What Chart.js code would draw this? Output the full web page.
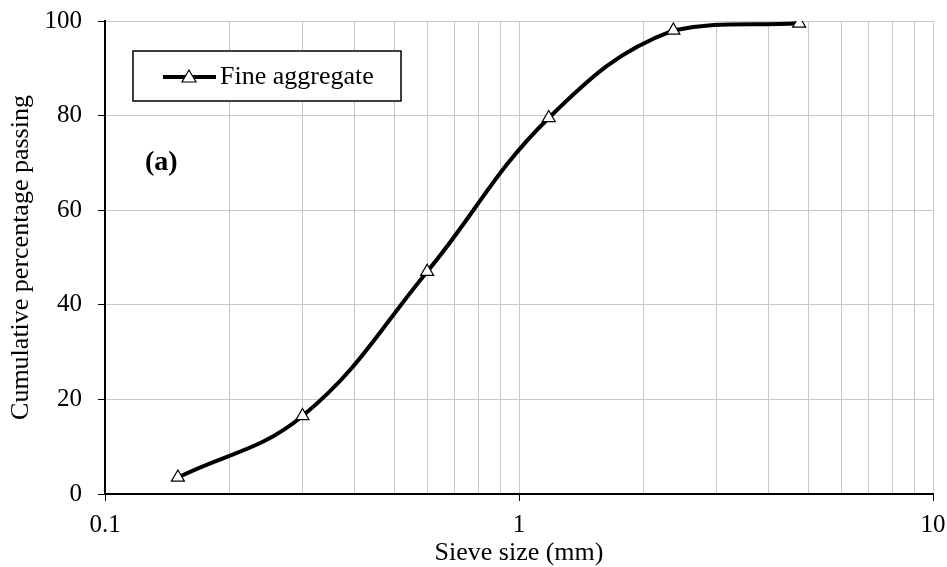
<!DOCTYPE html>
<html>
<head>
<meta charset="utf-8">
<script src="https://cdn.jsdelivr.net/npm/chart.js@4"></script>
<style>
  html, body { margin: 0; padding: 0; background: #fff; }
  #wrap { width: 947px; height: 567px; }
</style>
</head>
<body>
<div id="wrap"><canvas id="sieveChart" width="947" height="567"></canvas></div>
<script>
// sieve sizes (mm) and cumulative % passing
const sieveSizes = [0.15, 0.3, 0.6, 1.18, 2.36, 4.75];
const passing = [3.5, 16.5, 47, 79.5, 98, 99.5];
const xTickLabels = [0.1, 1, 10];
const yTicks = [0, 20, 40, 60, 80, 100];
const seriesName = 'Fine aggregate';
const panelLabel = '(a)';

const serif = "'Liberation Serif', 'Times New Roman', serif";

// legend box + panel label drawn inside the plot area
const insideLabels = {
  id: 'insideLabels',
  afterDraw(chart) {
    const ctx = chart.ctx;
    ctx.save();
    // legend box
    ctx.fillStyle = '#fff';
    ctx.fillRect(133, 51, 268, 50);
    ctx.strokeStyle = '#000';
    ctx.lineWidth = 1.5;
    ctx.strokeRect(133, 51, 268, 50);
    ctx.beginPath();
    ctx.lineWidth = 4;
    ctx.moveTo(163, 77);
    ctx.lineTo(216, 77);
    ctx.stroke();
    ctx.beginPath();
    ctx.lineWidth = 1.2;
    ctx.moveTo(189, 70);
    ctx.lineTo(196, 82);
    ctx.lineTo(182, 82);
    ctx.closePath();
    ctx.fillStyle = '#fff';
    ctx.fill();
    ctx.stroke();
    ctx.fillStyle = '#000';
    ctx.font = '26px ' + serif;
    ctx.textBaseline = 'middle';
    ctx.fillText(seriesName, 220, 77);
    ctx.font = 'bold 28px ' + serif;
    ctx.fillText(panelLabel, 145, 163);
    ctx.restore();
  }
};

new Chart(document.getElementById('sieveChart'), {
  type: 'line',
  data: {
    datasets: [{
      label: seriesName,
      data: sieveSizes.map((s, i) => ({ x: s, y: passing[i] })),
      borderColor: '#000',
      borderWidth: 4,
      tension: 0.4,
      pointStyle: 'triangle',
      pointRadius: 7.5,
      pointBackgroundColor: '#fff',
      pointBorderColor: '#000',
      pointBorderWidth: 1.2
    }]
  },
  options: {
    responsive: false,
    animation: false,
    layout: { padding: { top: 21, right: 14, left: 0, bottom: 0 } },
    plugins: { legend: { display: false }, tooltip: { enabled: false } },
    scales: {
      x: {
        type: 'logarithmic',
        min: 0.1,
        max: 10,
        afterBuildTicks(scale) {
          const t = [];
          [0.1, 1].forEach(d => { for (let k = 1; k < 10; k++) t.push(+(d * k).toFixed(2)); });
          t.push(10);
          scale.ticks = t.map(v => ({ value: v }));
        },
        afterFit(scale) {
          scale.height = 73;
          scale.paddingLeft = 0;
          scale.paddingRight = 0;
        },
        ticks: {
          autoSkip: false,
          maxRotation: 0,
          padding: 9,
          color: '#000',
          font: { family: serif, size: 25 },
          callback: (v) => xTickLabels.includes(v) ? String(v) : ''
        },
        grid: {
          color: '#c8c8c8',
          lineWidth: 1,
          tickLength: 7,
          tickColor: (c) => xTickLabels.includes(c.tick && c.tick.value) ? '#000' : 'rgba(0,0,0,0)'
        },
        border: { color: '#000', width: 2 },
        title: {
          display: true,
          text: 'Sieve size (mm)',
          color: '#000',
          font: { family: serif, size: 26 },
          padding: { top: 0, bottom: -2 }
        }
      },
      y: {
        min: 0,
        max: 100,
        afterBuildTicks(scale) { scale.ticks = yTicks.map(v => ({ value: v })); },
        afterFit(scale) {
          scale.width = 105;
          scale.paddingTop = 0;
          scale.paddingBottom = 0;
        },
        ticks: {
          padding: 16,
          color: '#000',
          font: { family: serif, size: 25 }
        },
        grid: {
          color: '#c8c8c8',
          lineWidth: 1,
          tickLength: 7,
          tickColor: '#000'
        },
        border: { color: '#000', width: 2 },
        title: {
          display: true,
          text: 'Cumulative percentage passing',
          color: '#000',
          font: { family: serif, size: 26 },
          padding: { top: 6, bottom: 0 }
        }
      }
    }
  },
  plugins: [insideLabels]
});
</script>
</body>
</html>
